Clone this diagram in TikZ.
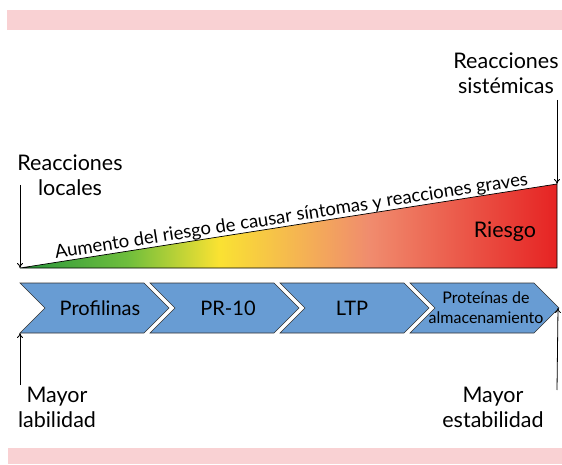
\documentclass[tikz,border=0pt]{standalone}
\usepackage{fontspec}
\setmainfont{Lato}
\usetikzlibrary{positioning,
        arrows.meta}
\usepackage{xcolor}

\definecolor{barpink}{RGB}{249,209,211}
\definecolor{chevblue}{RGB}{104,156,211}
\definecolor{rgreen}{RGB}{40,150,60}
\definecolor{rlgreen}{RGB}{110,190,60}
\definecolor{ryellow}{RGB}{250,226,50}
\definecolor{rsalmon}{RGB}{240,140,110}
\definecolor{rred}{RGB}{230,35,35}
\pgfdeclarehorizontalshading{riesgo}{100bp}{color(0bp)=(rgreen); color(25bp)=(rgreen);
  color(35bp)=(rlgreen); color(43.5bp)=(ryellow); color(57.5bp)=(rsalmon);
  color(75bp)=(rred); color(100bp)=(rred)}

\tikzset{
  chevron/.style={draw=black!80, fill=chevblue, line width=0.6pt},
  lbl/.style={align=center, font=\fontsize{21.5}{25}\selectfont, inner sep=0pt},
  chevtxt/.style={align=center, font=\fontsize{20}{20}\selectfont, inner sep=0pt},
  arr/.style={-{To[length=5pt,width=6pt]}, line width=0.8pt}
}

\begin{document}
\begin{tikzpicture}[x=1pt,y=1pt]
        \useasboundingbox (0,0) rectangle (562,464);
        % bands
        \fill[barpink] (7,434) rectangle (562,454);
        \fill[barpink] (8,0) rectangle (562,16);

        % risk wedge
        \coordinate (tl) at (20,196);
        \coordinate (tr) at (557,280);
        \coordinate (br) at (557,196);
        \shade[shading=riesgo] (tl) -- (tr) -- (br) -- cycle;
        \draw[line width=0.7pt] (tl) -- (tr) -- (br) -- cycle;
        \path (tl) -- (tr) node [pos=0.508, sloped, above=0pt, inner sep=0pt,
              font=\fontsize{18.5}{18}\selectfont] (aumento)
              {Aumento del riesgo de causar síntomas y reacciones graves};
        \node [lbl] (riesgo) at (505,232) {Riesgo};

        % top labels
        \node [lbl] (locales) at (70,289) {Reacciones\\locales};
        \node [lbl] (sistem) at (506,391) {Reacciones\\sistémicas};
        \coordinate (ltop) at (20,279);
        \coordinate (rtop) at (557,364);
        \draw[arr] (ltop) -- (tl);
        \draw[arr] (rtop) -- (tr);

        % chevrons
        \foreach \x/\name in {20/profi, 150/prdiez, 280/ltp, 410/almac}
            \draw[chevron] (\x,181) -- ++(124,0) -- ++(25,-25) -- ++(-25,-25)
                -- ++(-124,0) -- ++(25,25) -- cycle;
        \node [chevtxt] (profi) at (100,156) {Profilinas};
        \node [chevtxt] (prdiez) at (228,156) {PR-10};
        \node [chevtxt] (ltp) at (352,156) {LTP};
        \node [chevtxt, font=\fontsize{16}{20}\selectfont] (almac) at (486,156)
              {Proteínas de\\almacenamiento};

        % bottom labels
        \coordinate (lchev) at (20,131);
        \coordinate (rchev) at (558,156);
        \coordinate (lbot) at (20,79);
        \coordinate (rbot) at (557,74);
        \draw[arr] (lbot) -- (lchev);
        \draw[arr] (rbot) -- (rchev);
        \node [lbl] (labil) at (57,57) {Mayor\\labilidad};
        \node [lbl] (estab) at (493,57) {Mayor\\estabilidad};
    \end{tikzpicture}
\end{document}
